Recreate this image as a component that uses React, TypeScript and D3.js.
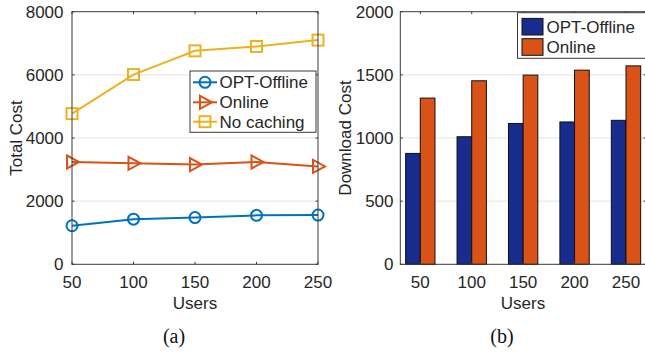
import React from 'react';
import * as d3 from 'd3';

// left panel: total cost vs users
const users = [50, 100, 150, 200, 250];
const optOffline = [1220, 1430, 1480, 1550, 1560];
const online = [3240, 3200, 3160, 3240, 3100];
const noCaching = [4770, 6010, 6760, 6900, 7100];
const costTicks = [0, 2000, 4000, 6000, 8000];

// right panel: download cost (grouped bars)
const dlOptOffline = [878, 1010, 1115, 1127, 1140];
const dlOnline = [1316, 1453, 1498, 1537, 1571];
const dlTicks = [0, 500, 1000, 1500, 2000];

const FONT = '"Liberation Sans", Arial, Helvetica, sans-serif';
const SERIF = '"Liberation Serif", "Times New Roman", serif';
const TXT = '#262626';
const AX = '#3a3a3a';
const GRID = '#e3e3e3';

const BLUE = '#0072BD';
const ORANGE = '#D95319';
const YELLOW = '#EDB120';
const BAR_BLUE = '#172C8C';
const BAR_ORANGE = '#D95319';

const Marker = ({kind, x, y, color}: {kind: string, x: number, y: number, color: string}) => {
    if (kind === 'circle') {
        return <circle cx={x} cy={y} r={5.5} fill='none' stroke={color} strokeWidth={2}/>
    }
    if (kind === 'tri') {
        return <path d='M-5,-6.5L7,0L-5,6.5Z' transform={`translate(${x},${y})`} fill='none' stroke={color} strokeWidth={2} strokeLinejoin='miter'/>
    }
    return <rect x={x - 5.5} y={y - 5.5} width={11} height={11} fill='none' stroke={color} strokeWidth={2}/>
}

const LinePanel = () => {
    const left = 72, right = 318, top = 11.7, bottom = 264.3

    const x = d3.scaleLinear().domain([50, 250]).range([left, right])
    const y = d3.scaleLinear().domain([0, 8000]).range([bottom, top])

    const line = d3.line<number>()
        .x((d, i) => x(users[i]))
        .y(d => y(d))

    const series = [
        {name: 'OPT-Offline', values: optOffline, color: BLUE, marker: 'circle'},
        {name: 'Online', values: online, color: ORANGE, marker: 'tri'},
        {name: 'No caching', values: noCaching, color: YELLOW, marker: 'square'},
    ]

    const legendRows = [82.3, 102.3, 121.7]

    return (
        <g>
            {costTicks.filter(t => t > 0 && t < 8000).map(t =>
                <line key={'g' + t} x1={left} x2={right} y1={y(t)} y2={y(t)} stroke={GRID} strokeWidth={1}/>
            )}
            {series.map(s =>
                <g key={s.name}>
                    <path d={line(s.values) || ''} fill='none' stroke={s.color} strokeWidth={2}/>
                    {s.values.map((v, i) =>
                        <Marker key={i} kind={s.marker} x={x(users[i])} y={y(v)} color={s.color}/>
                    )}
                </g>
            )}
            {/* axes box */}
            <rect x={left} y={top} width={right - left} height={bottom - top} fill='none' stroke={AX} strokeWidth={1}/>
            {users.map(u =>
                <g key={'xt' + u}>
                    <line x1={x(u)} x2={x(u)} y1={bottom} y2={bottom - 2.5} stroke={AX}/>
                    <line x1={x(u)} x2={x(u)} y1={top} y2={top + 2.5} stroke={AX}/>
                    <text x={x(u)} y={288} textAnchor='middle' fontSize={17} fontFamily={FONT} fill={TXT}>{u}</text>
                </g>
            )}
            {costTicks.map(t =>
                <g key={'yt' + t}>
                    <line x1={left} x2={left + 2.5} y1={y(t)} y2={y(t)} stroke={AX}/>
                    <line x1={right} x2={right - 2.5} y1={y(t)} y2={y(t)} stroke={AX}/>
                    <text x={63.5} y={y(t)} dy='0.35em' textAnchor='end' fontSize={17} fontFamily={FONT} fill={TXT}>{t}</text>
                </g>
            )}
            <text x={195} y={308.5} textAnchor='middle' fontSize={17} fontFamily={FONT} fill={TXT}>Users</text>
            <text transform='translate(22,138) rotate(-90)' textAnchor='middle' fontSize={17} fontFamily={FONT} fill={TXT}>Total Cost</text>

            {/* legend */}
            <rect x={190} y={71} width={126} height={61.3} fill='#fff' stroke={AX} strokeWidth={1}/>
            {series.map((s, i) =>
                <g key={'lg' + s.name}>
                    <line x1={193} x2={217} y1={legendRows[i]} y2={legendRows[i]} stroke={s.color} strokeWidth={2}/>
                    <Marker kind={s.marker} x={205} y={legendRows[i]} color={s.color}/>
                    <text x={219.5} y={legendRows[i]} dy='0.35em' fontSize={17} fontFamily={FONT} fill={TXT}>{s.name}</text>
                </g>
            )}

            <text x={174} y={343} textAnchor='middle' fontSize={20} fontFamily={SERIF} fill='#111'>(a)</text>
        </g>
    )
}

const BarPanel = () => {
    const left = 400.3, right = 646, top = 11.7, bottom = 264.3

    const cats = users.map((u, i) => i + 1)
    const x = d3.scaleLinear().domain([0.611, 5.389]).range([left, right])
    const y = d3.scaleLinear().domain([0, 2000]).range([bottom, top])

    const step = x(2) - x(1)
    const groupWidth = step * 0.571
    const sub = d3.scaleBand().domain(['opt', 'online']).range([-groupWidth / 2, groupWidth / 2])

    const series = [
        {key: 'opt', name: 'OPT-Offline', values: dlOptOffline, color: BAR_BLUE},
        {key: 'online', name: 'Online', values: dlOnline, color: BAR_ORANGE},
    ]

    const legendRows = [26.7, 47]

    return (
        <g>
            {dlTicks.filter(t => t > 0 && t < 2000).map(t =>
                <line key={'g' + t} x1={left} x2={right} y1={y(t)} y2={y(t)} stroke={GRID} strokeWidth={1}/>
            )}
            {series.map(s =>
                <g key={s.key}>
                    {s.values.map((v, i) =>
                        <rect key={i}
                            x={x(cats[i]) + (sub(s.key) || 0)}
                            y={y(v)}
                            width={sub.bandwidth()}
                            height={bottom - y(v)}
                            fill={s.color} stroke='#111' strokeWidth={1}/>
                    )}
                </g>
            )}
            <rect x={left} y={top} width={right - left} height={bottom - top} fill='none' stroke={AX} strokeWidth={1}/>
            {cats.map((c, i) =>
                <g key={'xt' + c}>
                    <line x1={x(c)} x2={x(c)} y1={bottom} y2={bottom - 2.5} stroke={AX}/>
                    <line x1={x(c)} x2={x(c)} y1={top} y2={top + 2.5} stroke={AX}/>
                    <text x={x(c)} y={288} textAnchor='middle' fontSize={17} fontFamily={FONT} fill={TXT}>{users[i]}</text>
                </g>
            )}
            {dlTicks.map(t =>
                <g key={'yt' + t}>
                    <line x1={left} x2={left + 2.5} y1={y(t)} y2={y(t)} stroke={AX}/>
                    <line x1={right} x2={right - 2.5} y1={y(t)} y2={y(t)} stroke={AX}/>
                    <text x={393.5} y={y(t)} dy='0.35em' textAnchor='end' fontSize={17} fontFamily={FONT} fill={TXT}>{t}</text>
                </g>
            )}
            <text x={523} y={308.5} textAnchor='middle' fontSize={17} fontFamily={FONT} fill={TXT}>Users</text>
            <text transform='translate(351,138) rotate(-90)' textAnchor='middle' fontSize={17} fontFamily={FONT} fill={TXT}>Download Cost</text>

            {/* legend */}
            <rect x={517.5} y={12.7} width={130} height={45.6} fill='#fff' stroke={AX} strokeWidth={1}/>
            {series.map((s, i) =>
                <g key={'lg' + s.key}>
                    <rect x={522} y={legendRows[i] - 8.3} width={21} height={16.6} fill={s.color} stroke='#111' strokeWidth={1}/>
                    <text x={546.5} y={legendRows[i]} dy='0.35em' fontSize={17} fontFamily={FONT} fill={TXT}>{s.name}</text>
                </g>
            )}

            <text x={502} y={343} textAnchor='middle' fontSize={20} fontFamily={SERIF} fill='#111'>(b)</text>
        </g>
    )
}

const App = () => {
    return (
        <svg width={645} height={352} style={{position: 'absolute', left: 0, top: 0, background: '#fff'}}>
            <rect x={0} y={0} width={645} height={352} fill='#fff'/>
            <LinePanel/>
            <BarPanel/>
        </svg>
    )
}

export default App;
